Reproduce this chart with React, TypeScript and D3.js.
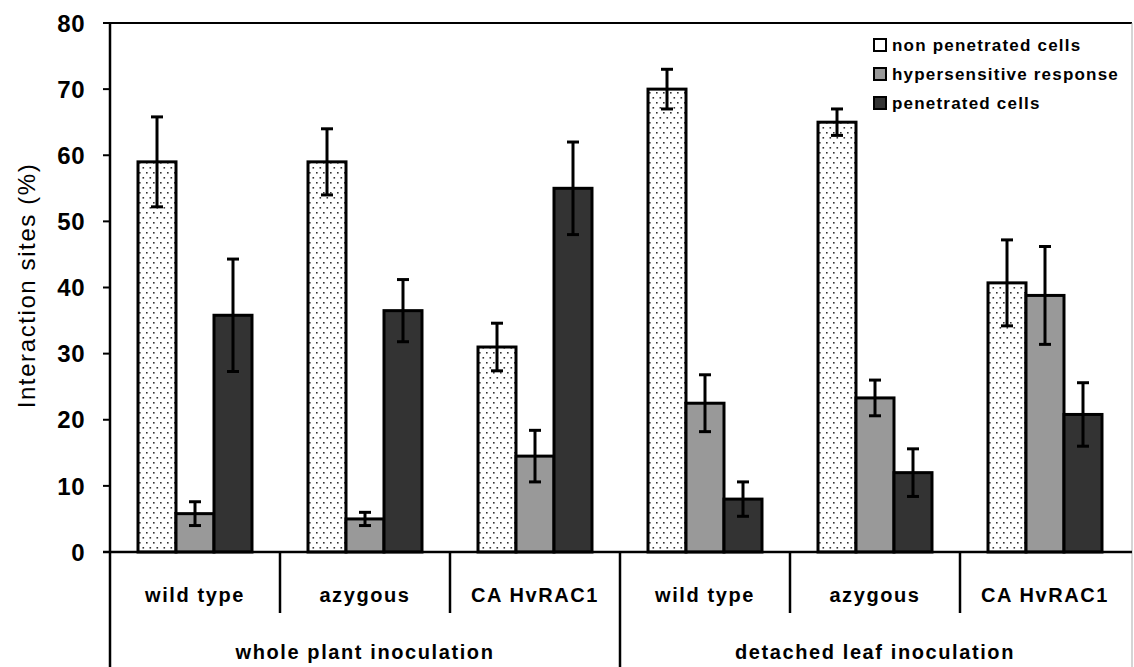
import React from "react";
import { scaleBand, scaleLinear } from "d3";

// categories and groups
const groups = ["whole plant inoculation", "detached leaf inoculation"];
const lines = ["wild type", "azygous", "CA HvRAC1"];
const categories = [
  "wp wild type", "wp azygous", "wp CA HvRAC1",
  "dl wild type", "dl azygous", "dl CA HvRAC1"
];
const series = ["non penetrated cells", "hypersensitive response", "penetrated cells"];
const yTicks = [0, 10, 20, 30, 40, 50, 60, 70, 80];

// values (mean, error)
const nonPenetrated = [59, 59, 31, 70, 65, 40.7];
const nonPenetratedErr = [6.8, 5, 3.6, 3, 2, 6.5];
const hypersensitive = [5.8, 5, 14.5, 22.5, 23.3, 38.8];
const hypersensitiveErr = [1.8, 1, 3.9, 4.3, 2.7, 7.4];
const penetrated = [35.8, 36.5, 55, 8, 12, 20.8];
const penetratedErr = [8.5, 4.7, 7, 2.6, 3.6, 4.8];

const values = [nonPenetrated, hypersensitive, penetrated];
const errors = [nonPenetratedErr, hypersensitiveErr, penetratedErr];
const fills = ["url(#dots)", "#999999", "#333333"];

const W = 1134;
const H = 667;
const left = 110;
const right = 1132;
const top = 23;
const bottom = 552;

function App() {
  const x = scaleBand().domain(categories).range([left, left + 1020]).padding(0);
  const xs = scaleBand().domain(series).range([0, x.bandwidth()]).paddingInner(0).paddingOuter(0.737);
  const y = scaleLinear().domain([0, 80]).range([bottom, top]);
  const font = "'Liberation Sans', Arial, sans-serif";

  return (
    <svg width={W} height={H} style={{ position: "absolute", left: 0, top: 0, background: "#fff" }}>
      <defs>
        <pattern id="dots" width="7" height="10" patternUnits="userSpaceOnUse">
          <rect width="7" height="10" fill="#fff" />
          <rect x="1" y="2" width="1.6" height="1.6" fill="#333" />
          <rect x="4.5" y="7" width="1.6" height="1.6" fill="#333" />
        </pattern>
      </defs>

      {/* plot frame */}
      <line x1={left} x2={right} y1={top} y2={top} stroke="#000" strokeWidth={2} />
      <line x1={right} x2={right} y1={top} y2={H} stroke="#aaa" strokeWidth={1} />

      {/* bars */}
      {categories.map((c, i) => (
        <g key={c} transform={`translate(${x(c)},0)`}>
          {series.map((s, k) => {
            const v = values[k][i];
            const e = errors[k][i];
            const bx = xs(s)!;
            const cx = bx + xs.bandwidth() / 2;
            return (
              <g key={s}>
                <rect x={bx} y={y(v)} width={xs.bandwidth()} height={y(0) - y(v)}
                  fill={fills[k]} stroke="#000" strokeWidth={3} />
                <line x1={cx} x2={cx} y1={y(v + e)} y2={y(v - e)} stroke="#000" strokeWidth={3} />
                <line x1={cx - 6} x2={cx + 6} y1={y(v + e)} y2={y(v + e)} stroke="#000" strokeWidth={3} />
                <line x1={cx - 6} x2={cx + 6} y1={y(v - e)} y2={y(v - e)} stroke="#000" strokeWidth={3} />
              </g>
            );
          })}
        </g>
      ))}

      {/* y axis */}
      <line x1={left} x2={left} y1={top} y2={H} stroke="#000" strokeWidth={2.5} />
      {yTicks.map((t) => (
        <g key={t}>
          <line x1={left - 7} x2={left} y1={y(t)} y2={y(t)} stroke="#000" strokeWidth={2} />
          <text x={85} y={y(t)} dy="0.36em" textAnchor="end" fontFamily={font}
            fontWeight="bold" fontSize={24} letterSpacing={0.5}>{t}</text>
        </g>
      ))}
      <text transform={`translate(35,${(top + bottom) / 2 - 2}) rotate(-90)`} textAnchor="middle"
        fontFamily={font} fontSize={24} letterSpacing={1.6}>Interaction sites (%)</text>

      {/* x axis */}
      <line x1={left - 7} x2={right} y1={bottom} y2={bottom} stroke="#000" strokeWidth={2.5} />
      {categories.map((c, i) => (
        <g key={c}>
          {i % 3 !== 0 && (
            <line x1={x(c)} x2={x(c)} y1={bottom} y2={613} stroke="#000" strokeWidth={2.5} />
          )}
          <text x={x(c)! + x.bandwidth() / 2} y={602} textAnchor="middle" fontFamily={font}
            fontWeight="bold" fontSize={20} letterSpacing={1.6}>{lines[i % 3]}</text>
        </g>
      ))}
      {groups.map((g, j) => {
        const x0 = x(categories[j * 3])!;
        const x1 = x(categories[j * 3 + 2])! + x.bandwidth();
        return (
          <g key={g}>
            {j > 0 && <line x1={x0} x2={x0} y1={bottom} y2={H} stroke="#000" strokeWidth={2.5} />}
            <text x={(x0 + x1) / 2} y={659} textAnchor="middle" fontFamily={font}
              fontWeight="bold" fontSize={20} letterSpacing={1.6}>{g}</text>
          </g>
        );
      })}

      {/* legend */}
      {series.map((s, k) => (
        <g key={s} transform={`translate(874,${45 + k * 29})`}>
          <rect x={0} y={-6} width={12} height={12} fill={k === 0 ? "#fff" : fills[k]}
            stroke="#000" strokeWidth={2} />
          <text x={18} y={0} dy="0.36em" fontFamily={font} fontWeight="bold"
            fontSize={17} letterSpacing={1.2}>{s}</text>
        </g>
      ))}
    </svg>
  );
}

export default App;
